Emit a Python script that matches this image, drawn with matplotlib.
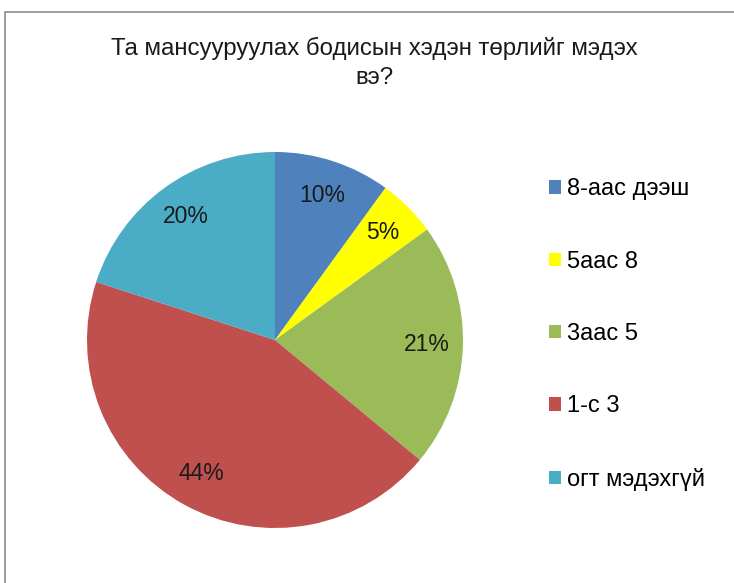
import matplotlib
matplotlib.use("Agg")
import matplotlib.pyplot as plt
from matplotlib.patches import Rectangle, Patch

plt.rcParams['font.family'] = ['Liberation Sans', 'DejaVu Sans']

title = "Та мансууруулах бодисын хэдэн төрлийг мэдэх\nвэ?"
categories = ["8-аас дээш", "5аас 8", "3аас 5", "1-с 3", "огт мэдэхгүй"]
values = [10, 5, 21, 44, 20]
colors = ["#4F81BD", "#FFFF00", "#9BBB59", "#C0504D", "#4BACC6"]

W, H = 734, 583
fig = plt.figure(figsize=(W / 100, H / 100), dpi=100)
fig.patch.set_facecolor("white")

# outer frame (left, top visible; right/bottom run off the image)
fig.patches.append(Rectangle((5 / W, -0.1), 1.2, (H - 12) / H + 0.1,
                             transform=fig.transFigure, fill=False,
                             edgecolor="#8c8c8c", linewidth=1.2))

ax = fig.add_axes([87 / W, 1 - 528 / H, 376 / W, 376 / H])
wedges, texts, autotexts = ax.pie(
    values, colors=colors, startangle=90, counterclock=False,
    autopct=lambda p: f"{p:.0f}%", pctdistance=0.81, radius=1,
    textprops=dict(fontsize=16.5, color="#1a1a1a"))
ax.set_xlim(-1, 1)
ax.set_ylim(-1, 1)
ax.set_aspect("equal")
ax.axis("off")

fig.text(374 / W, 1 - 63 / H, title, ha="center", va="center",
         fontsize=17.3, linespacing=1.38, color="#1a1a1a")

handles = [Patch(facecolor=c, edgecolor="none") for c in colors]
fig.legend(handles, categories, loc="upper left",
           bbox_to_anchor=(540 / W, 1 - 169 / H), frameon=False,
           fontsize=17, handlelength=0.5, handleheight=0.5,
           handletextpad=0.25, labelspacing=2.13, borderaxespad=0)

fig.savefig("out.png", dpi=100)
